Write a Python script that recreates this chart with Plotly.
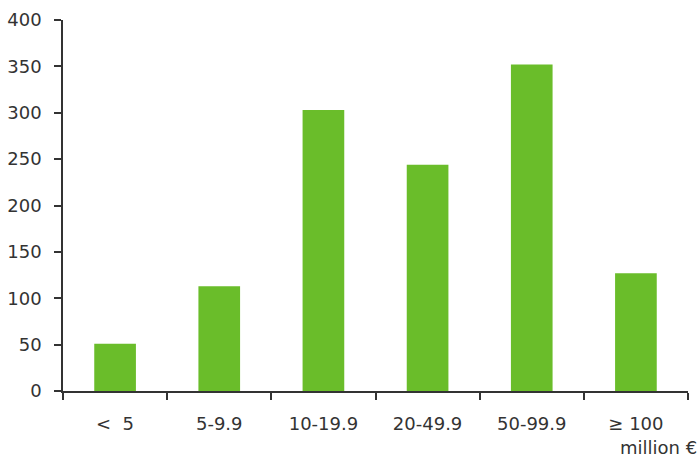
import plotly.graph_objects as go

categories = ["<  5", "5-9.9", "10-19.9", "20-49.9", "50-99.9", "\u2265 100"]
values = [51, 113, 303, 244, 352, 127]
y_ticks = [0, 50, 100, 150, 200, 250, 300, 350, 400]

font_family = "'DejaVu Sans', sans-serif"
text_color = "#333333"
fsize = 18

fig = go.Figure(
    go.Bar(
        x=categories,
        y=values,
        marker=dict(color="#6ABD2A", line=dict(width=0)),
        width=0.4,
    )
)

fig.update_layout(
    width=700,
    height=457,
    margin=dict(l=63, r=12, t=20, b=66, autoexpand=False),
    plot_bgcolor="white",
    paper_bgcolor="white",
    showlegend=False,
    font=dict(family=font_family, size=fsize, color=text_color),
    bargap=0.6,
)

fig.update_xaxes(
    type="category",
    automargin=False,
    showgrid=False,
    showline=True,
    linecolor="#333333",
    linewidth=1.5,
    ticks="outside",
    tickson="boundaries",
    ticklen=7,
    tickwidth=1.5,
    tickcolor="#333333",
    ticklabelstandoff=16,
    tickfont=dict(size=fsize, color=text_color),
)

fig.update_yaxes(
    range=[0, 400],
    automargin=False,
    tickvals=y_ticks,
    showgrid=False,
    zeroline=False,
    showline=True,
    linecolor="#333333",
    linewidth=1.5,
    ticks="outside",
    ticklen=7,
    tickwidth=1.5,
    tickcolor="#333333",
    ticklabelstandoff=9,
    tickfont=dict(size=fsize, color=text_color),
)

fig.add_annotation(
    text="million \u20ac",
    xref="paper",
    yref="paper",
    x=1,
    y=0,
    xanchor="right",
    yanchor="middle",
    xshift=11,
    yshift=-56,
    showarrow=False,
    font=dict(size=fsize, color=text_color, family=font_family),
)

fig.write_html("out.html")
